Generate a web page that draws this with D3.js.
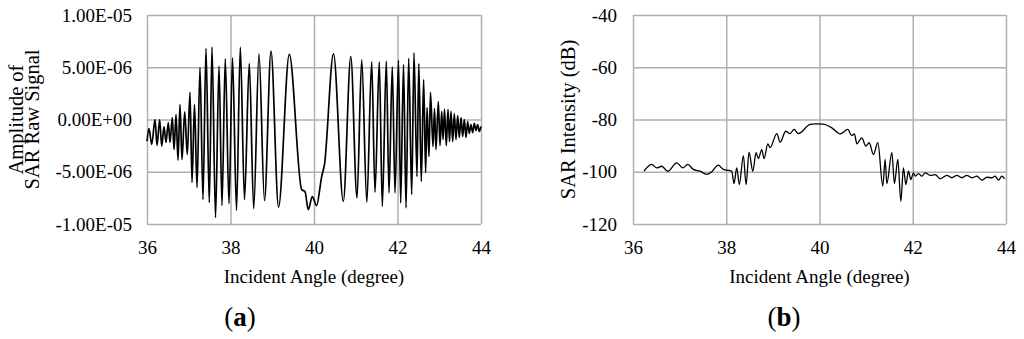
<!DOCTYPE html>
<html>
<head>
<meta charset="utf-8">
<script src="https://cdn.jsdelivr.net/npm/d3@7"></script>
<style>
    body { margin: 0; background: #fff; }
    svg { display: block; }
    text { font-family: "Liberation Serif", "Times New Roman", serif; fill: #000; }
</style>
</head>
<body>
<svg id="chart" width="1024" height="339"></svg>
<script>
// ---- data ----
// (a) raw signal, peaks and troughs; amplitude in units of 1E-06
const raw_angle = [
    36.000, 36.048, 36.113, 36.192, 36.240, 36.304, 36.352, 36.407, 36.455, 36.510,
    36.551, 36.606, 36.647, 36.695, 36.743, 36.790, 36.838, 36.903, 36.965, 37.030,
    37.078, 37.138, 37.198, 37.269, 37.341, 37.413, 37.492, 37.557, 37.641, 37.725,
    37.796, 37.875, 37.964, 38.048, 38.144, 38.235, 38.335, 38.450, 38.556, 38.683,
    38.814, 38.970, 39.150, 39.408, 39.705, 39.784, 39.863, 39.959, 40.060, 40.184,
    40.251, 40.467, 40.702, 40.881, 41.030, 41.143, 41.265, 41.382, 41.461, 41.564,
    41.636, 41.732, 41.796, 41.875, 41.940, 42.024, 42.076, 42.144, 42.204, 42.268,
    42.340, 42.395, 42.467, 42.510, 42.570, 42.626, 42.674, 42.707, 42.754, 42.790,
    42.850, 42.886, 42.922, 42.978, 43.018, 43.059, 43.090, 43.126, 43.169, 43.210,
    43.246, 43.281, 43.322, 43.360, 43.401, 43.442, 43.480, 43.521, 43.561, 43.600,
    43.641, 43.681, 43.720, 43.760, 43.801, 43.839, 43.880, 43.921, 43.959, 44.000
];
const raw_amp = [
    -2.08, -0.86, -2.39, 0.00, -2.49, 0.00, -2.56, -0.67, -2.20, -0.29,
    -2.20, 0.19, -2.87, 0.48, -3.90, 1.44, -3.83, 0.74, -3.35, 2.59,
    -6.03, 1.44, -6.51, 4.98, -7.66, 6.80, -7.95, 6.94, -9.39, 5.11,
    -8.24, 5.81, -8.05, 5.91, -8.69, 6.93, -7.66, 5.34, -8.53, 6.29,
    -7.76, 6.54, -8.38, 6.23, -6.71, -6.90, -8.62, -7.38, -8.24, -5.46,
    -4.31, 6.29, -7.83, 6.03, -7.50, 5.70, -7.92, 5.51, -6.96, 5.51,
    -8.31, 5.58, -7.02, 5.05, -7.02, 5.65, -7.98, 5.27, -8.46, 5.84,
    -7.18, 6.39, -5.46, 5.36, -5.94, 3.83, -5.08, 1.15, -3.54, 2.59,
    -2.59, 1.05, -2.87, 1.72, -2.49, 0.77, -1.92, 0.96, -2.49, 0.96,
    -2.11, 0.77, -2.11, 0.57, -1.92, 0.38, -1.72, 0.19, -1.63, 0.00,
    -1.72, -0.19, -1.34, -0.48, -1.25, -0.38, -1.05, -0.48, -1.15, -0.67
];

// (b) SAR intensity in dB
const int_angle = [
    36.236, 36.401, 36.509, 36.616, 36.745, 36.938, 37.067, 37.174, 37.294, 37.438,
    37.582, 37.689, 37.830, 37.938, 38.060, 38.118, 38.167, 38.225, 38.281, 38.367,
    38.425, 38.489, 38.569, 38.640, 38.689, 38.762, 38.811, 38.891, 38.940, 39.084,
    39.155, 39.277, 39.369, 39.455, 39.547, 39.798, 39.906, 40.080, 40.264, 40.442,
    40.607, 40.690, 40.749, 40.801, 40.908, 40.994, 41.065, 41.157, 41.251, 41.358,
    41.408, 41.444, 41.552, 41.607, 41.680, 41.745, 41.800, 41.852, 41.908, 41.959,
    42.015, 42.052, 42.122, 42.195, 42.266, 42.373, 42.481, 42.588, 42.732, 42.839,
    42.946, 43.054, 43.161, 43.268, 43.376, 43.483, 43.590, 43.697, 43.768, 43.839,
    43.912, 43.968
];
const int_db = [
    -99.8, -97.2, -98.5, -97.9, -99.8, -96.6, -98.5, -97.2, -99.1, -99.8,
    -101.0, -100.0, -97.5, -99.1, -99.5, -99.8, -104.5, -98.5, -104.9, -93.8,
    -104.9, -92.5, -99.8, -92.7, -95.0, -91.5, -95.0, -89.3, -90.8, -85.4,
    -88.7, -84.5, -85.4, -83.8, -85.4, -81.9, -81.7, -81.8, -83.2, -85.5,
    -83.8, -86.1, -85.5, -89.3, -87.0, -90.2, -88.9, -93.4, -88.9, -105.5,
    -95.3, -104.5, -92.7, -104.5, -95.3, -111.3, -98.5, -104.9, -99.8, -103.0,
    -100.4, -101.7, -100.7, -101.7, -100.4, -101.4, -101.1, -102.7, -101.4, -102.3,
    -101.4, -102.3, -101.4, -102.3, -101.7, -103.2, -102.1, -102.3, -101.7, -103.2,
    -101.7, -102.7
];

// ticks
const angle_ticks = [36, 38, 40, 42, 44];
const amp_ticks = [-1e-5, -5e-6, 0, 5e-6, 1e-5];
const db_ticks = [-120, -100, -80, -60, -40];

// ---- look ----
const GRID_COR = "#b0b0b0";
const GRID_WID = 1.5;
const LINE_COR = "#000";
const TICK_SIZE = 19;
const TITLE_SIZE = 19;
const YTITLE_SIZE = 20.5;
const PANEL_SIZE = 27;
const TOP = 15, BOTTOM = 224;

const svg = d3.select("#chart");

function fmt_sci(v) {
    let [m, e] = v.toExponential(2).split("e");
    let sign = e[0] === "-" ? "-" : "+";
    let n = Math.abs(+e);
    return m + "E" + sign + (n < 10 ? "0" + n : n);
}

function draw_panel(opt) {
    let g = svg.append("g");
    let x = d3.scaleLinear().domain([36, 44]).range([opt.left, opt.right]);
    let y = d3.scaleLinear().domain(opt.ydom).range([BOTTOM, TOP]);
    let w = opt.right - opt.left;
    let h = BOTTOM - TOP;

    // grid
    let gy = g.append("g")
        .attr("transform", `translate(${opt.left},0)`)
        .call(d3.axisLeft(y).tickValues(opt.yticks).tickSize(-w).tickFormat(""));
    let gx = g.append("g")
        .attr("transform", `translate(0,${BOTTOM})`)
        .call(d3.axisBottom(x).tickValues(angle_ticks).tickSize(-h).tickFormat(""));
    [gy, gx].forEach(a => {
        a.select(".domain").remove();
        a.selectAll("line").attr("stroke", GRID_COR).attr("stroke-width", GRID_WID);
    });

    // tick labels
    let ly = g.append("g")
        .attr("transform", `translate(${opt.left},0)`)
        .call(d3.axisLeft(y).tickValues(opt.yticks).tickSize(0).tickPadding(opt.ypad).tickFormat(opt.yfmt));
    let lx = g.append("g")
        .attr("transform", `translate(0,${BOTTOM})`)
        .call(d3.axisBottom(x).tickValues(angle_ticks).tickSize(0).tickPadding(17));
    [ly, lx].forEach(a => {
        a.attr("font-family", null);
        a.select(".domain").remove();
        a.selectAll("text")
            .attr("fill", "#000")
            .style("font-size", TICK_SIZE + "px");
    });

    // curve
    let pts = opt.xs.map((d, i) => [d, opt.ys[i]]);
    let line = d3.line()
        .x(d => x(d[0]))
        .y(d => y(d[1]))
        .curve(d3.curveMonotoneX);
    g.append("path")
        .attr("d", line(pts))
        .attr("fill", "none")
        .attr("stroke", LINE_COR)
        .attr("stroke-width", opt.lw)
        .attr("stroke-linejoin", "round");

    // axis titles
    g.append("text")
        .text("Incident Angle (degree)")
        .attr("x", (opt.left + opt.right) / 2)
        .attr("y", 283)
        .attr("text-anchor", "middle")
        .style("font-size", TITLE_SIZE + "px");

    opt.ytitle.forEach((t, i) => {
        g.append("text")
            .text(t)
            .attr("transform", `translate(${opt.ytx[i]},${(TOP + BOTTOM) / 2}) rotate(-90)`)
            .attr("text-anchor", "middle")
            .style("font-size", YTITLE_SIZE + "px");
    });

    // panel tag: thin brackets, bold letter
    let tag = g.append("text")
        .attr("x", opt.tagx)
        .attr("y", 326)
        .attr("text-anchor", "middle")
        .style("font-size", PANEL_SIZE + "px");
    tag.append("tspan").text("(");
    tag.append("tspan").attr("font-weight", "bold").text(opt.tag);
    tag.append("tspan").text(")");
}

draw_panel({
    left: 147, right: 481,
    ydom: [-1e-5, 1e-5], yticks: amp_ticks, yfmt: fmt_sci, ypad: 15,
    xs: raw_angle, ys: raw_amp.map(v => v * 1e-6), lw: 1.7,
    ytitle: ["Amplitude of", "SAR Raw Signal"], ytx: [23, 39],
    tag: "a", tagx: 240
});

draw_panel({
    left: 633, right: 1006,
    ydom: [-120, -40], yticks: db_ticks, yfmt: d => d, ypad: 16,
    xs: int_angle, ys: int_db, lw: 1.3,
    ytitle: ["SAR Intensity (dB)"], ytx: [575],
    tag: "b", tagx: 784
});
</script>
</body>
</html>
